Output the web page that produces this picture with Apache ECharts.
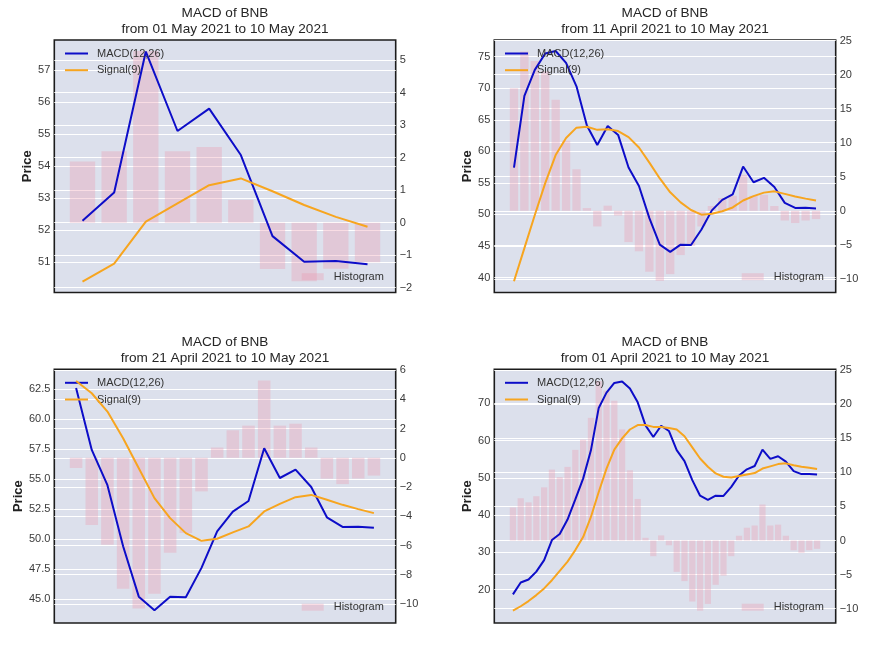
<!DOCTYPE html>
<html><head><meta charset="utf-8">
<script src="https://cdn.jsdelivr.net/npm/echarts@6/dist/echarts.min.js"></script>
<style>html,body{margin:0;padding:0;background:#fff}#c{width:879px;height:659px}</style>
</head><body><div id="c"></div>
<script>
// ---- data (01 April 2021 .. 10 May 2021, 40 daily points) ----
const macd = [18.7, 21.9, 22.7, 24.8, 27.9, 33.3, 34.9, 38.8, 44.2, 49.8,
  57.4, 68.8, 72.9, 75.5, 75.9, 74.0, 70.3, 64.1, 61.0, 64.0,
  62.6, 57.44, 54.5, 49.4, 45.2, 44.06, 45.2, 45.15, 47.6, 50.64,
  52.3, 53.18, 57.58, 55.1, 55.8, 54.35, 51.82, 51.02, 51.04, 50.94];
const histogram = [4.85, 6.2, 5.6, 6.5, 7.8, 10.4, 9.3, 10.8, 13.3, 14.8,
  18.0, 23.4, 22.0, 20.5, 16.3, 10.3, 6.1, 0.4, -2.3, 0.75,
  -0.7, -4.6, -5.95, -8.95, -10.3, -9.3, -6.5, -5.15, -2.3, 0.7,
  1.88, 2.2, 5.28, 2.2, 2.33, 0.7, -1.43, -1.8, -1.42, -1.22];
const signalMay01 = [50.4, 50.96, 52.27, 52.84, 53.41, 53.62, 53.22, 52.79, 52.42, 52.11];
const signalApr11 = [39.4, 44.65, 49.9, 54.95, 59.4, 62.1, 63.75, 63.9, 63.4, 63.5,
  63.2, 62.25, 60.6, 58.2, 55.7, 53.5, 51.9, 50.7, 49.95, 50.1,
  50.5, 51.1, 52.2, 52.9, 53.45, 53.65, 53.25, 52.85, 52.5, 52.2];
const signalApr21 = [63.2, 62.17, 60.64, 58.42, 55.92, 53.42, 51.75, 50.5, 49.86, 50.03,
  50.56, 51.06, 52.31, 52.94, 53.5, 53.69, 53.28, 52.86, 52.5, 52.17];
const signalApr01 = [14.3, 15.5, 16.9, 18.5, 20.3, 22.5, 25.0, 27.5, 30.6, 34.1,
  39.5, 46.2, 52.5, 57.6, 60.6, 63.0, 64.2, 64.2, 63.7, 63.7,
  63.4, 63.0, 61.2, 58.2, 55.2, 53.0, 51.2, 50.3, 50.1, 50.5,
  50.9, 51.3, 52.5, 53.1, 53.7, 53.9, 53.4, 53.0, 52.7, 52.4];
const startDates = ['01 May 2021', '11 April 2021', '21 April 2021', '01 April 2021'];
const endDate = '10 May 2021';
const priceTicksMay01 = [51, 52, 53, 54, 55, 56, 57];
const histTicksMay01 = [-2, -1, 0, 1, 2, 3, 4, 5];
const priceTicksApr11 = [40, 45, 50, 55, 60, 65, 70, 75];
const histTicksApr11 = [-10, -5, 0, 5, 10, 15, 20, 25];
const priceTicksApr21 = [45, 47.5, 50, 52.5, 55, 57.5, 60, 62.5];
const histTicksApr21 = [-10, -8, -6, -4, -2, 0, 2, 4, 6];
const priceTicksApr01 = [20, 30, 40, 50, 60, 70];
const histTicksApr01 = [-10, -5, 0, 5, 10, 15, 20, 25];

// ---- layout ----
const FONT = '"Liberation Sans", Arial, Helvetica, sans-serif';
const panels = [
  {signal: signalMay01, left: 54.3, top: 40, h: 252.5, yL: [50.06, 57.94], yR: [-2.15, 5.62],
   tL: priceTicksMay01, tR: histTicksMay01, gap: 19.5, dec: 0},
  {signal: signalApr11, left: 494.3, top: 40, h: 252.5, yL: [37.62, 77.64], yR: [-12.0, 25.08],
   tL: priceTicksApr11, tR: histTicksApr11, gap: 19.5, dec: 0},
  {signal: signalApr21, left: 54.3, top: 369.3, h: 253.7, yL: [43.0, 64.17], yR: [-11.3, 6.05],
   tL: priceTicksApr21, tR: histTicksApr21, gap: 29, dec: 1},
  {signal: signalApr01, left: 494.3, top: 369.3, h: 253.7, yL: [11.0, 79.18], yR: [-12.1, 25.12],
   tL: priceTicksApr01, tR: histTicksApr01, gap: 19.5, dec: 0}
];
const W = 341.4;
const minus = s => String(s).replace('-', '\u2212');

const grid = [], xAxis = [], yAxis = [], series = [], legend = [], graphic = [];
panels.forEach((p, k) => {
  const n = p.signal.length;
  const m = 0.4 + 0.05 * (n - 0.2);
  const macdW = macd.slice(macd.length - n);
  const histW = histogram.slice(histogram.length - n);
  grid.push({left: p.left, top: p.top, width: W, height: p.h, show: true,
    backgroundColor: '#dce0ec', borderColor: '#1c1c1c', borderWidth: 1.6, containLabel: false});
  xAxis.push({type: 'value', gridIndex: k, min: -m, max: n - 1 + m, show: false});
  const common = {
    axisLine: {show: false}, scale: true,
    splitLine: {show: true, lineStyle: {color: '#ffffff', width: 1.2}}
  };
  yAxis.push(Object.assign({}, common, {
    type: 'value', gridIndex: k, position: 'left', min: p.yL[0], max: p.yL[1],
    axisTick: {show: false, customValues: p.tL},
    axisLabel: {customValues: p.tL, margin: 4, fontSize: 11, color: '#3a3a3a', fontFamily: FONT,
      formatter: v => minus(p.dec ? v.toFixed(p.dec) : v)},
    name: 'Price', nameLocation: 'middle', nameGap: p.gap,
    nameTextStyle: {fontSize: 13, fontWeight: 'bold', color: '#222', fontFamily: FONT}
  }));
  yAxis.push(Object.assign({}, common, {
    type: 'value', gridIndex: k, position: 'right', min: p.yR[0], max: p.yR[1],
    axisTick: {show: false, customValues: p.tR},
    axisLabel: {customValues: p.tR, margin: 4, fontSize: 11, color: '#3a3a3a', fontFamily: FONT,
      formatter: v => minus(v)}
  }));
  series.push({type: 'bar', name: 'Histogram', xAxisIndex: k, yAxisIndex: 2 * k + 1,
    data: histW.map((v, i) => [i, v]), barWidth: '80%',
    itemStyle: {color: 'rgba(236,150,170,0.32)'}, z: 2});
  series.push({type: 'line', name: 'MACD(12,26)', xAxisIndex: k, yAxisIndex: 2 * k,
    data: macdW.map((v, i) => [i, v]), showSymbol: false, color: '#0d0dc8',
    lineStyle: {width: 2, color: '#0d0dc8'}, z: 3});
  series.push({type: 'line', name: 'Signal(9)', xAxisIndex: k, yAxisIndex: 2 * k,
    data: p.signal.map((v, i) => [i, v]), showSymbol: false, color: '#f7a51f',
    lineStyle: {width: 2, color: '#f7a51f'}, z: 4});
  legend.push({orient: 'vertical', left: p.left + 10.7, top: p.top + 6.5, itemWidth: 23, itemHeight: 2,
    itemGap: 2.7, selectedMode: false, padding: 0,
    data: [{name: 'MACD(12,26)', icon: 'rect'}, {name: 'Signal(9)', icon: 'rect'}],
    textStyle: {fontSize: 11, lineHeight: 14, color: '#333', fontFamily: FONT, padding: [0, 0, 0, 4]}});
  legend.push({orient: 'vertical', left: p.left + 247.4, top: p.top + p.h - 22.8, itemWidth: 22, itemHeight: 7,
    selectedMode: false, padding: 0,
    data: [{name: 'Histogram', icon: 'rect'}],
    textStyle: {fontSize: 11, lineHeight: 14, color: '#333', fontFamily: FONT, padding: [0, 0, 0, 5]}});
  const cx = p.left + W / 2;
  graphic.push({type: 'text', x: cx, y: p.top - 26.7, silent: true,
    style: {text: 'MACD of BNB', fill: '#262626', font: '13.6px ' + FONT, textAlign: 'center', textVerticalAlign: 'middle'}});
  graphic.push({type: 'text', x: cx, y: p.top - 11, silent: true,
    style: {text: 'from ' + startDates[k] + ' to ' + endDate, fill: '#262626', font: '13.6px ' + FONT,
      textAlign: 'center', textVerticalAlign: 'middle'}});
});

const chart = echarts.init(document.getElementById('c'), null, {renderer: 'canvas'});
chart.setOption({animation: false, backgroundColor: '#ffffff', grid, xAxis, yAxis, series, legend, graphic});
</script></body></html>
